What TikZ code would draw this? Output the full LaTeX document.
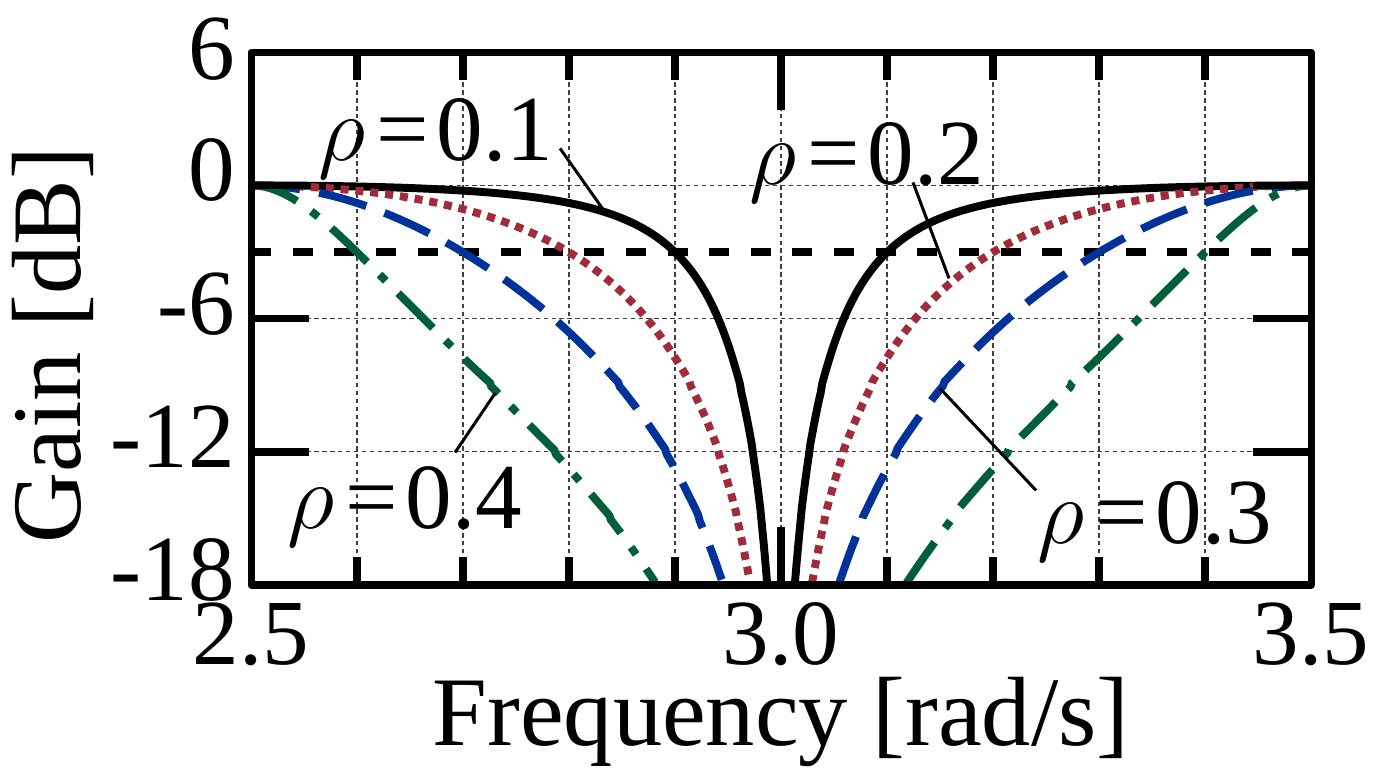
\RequirePackage{fix-cm}
\documentclass[tikz,border=0pt]{standalone}
\usepackage{fontspec}
\setmainfont{Liberation Serif}
\definecolor{cred}{HTML}{A12A3B}
\definecolor{cblue}{HTML}{00339A}
\definecolor{cgreen}{HTML}{005F3A}
\begin{document}
\begin{tikzpicture}[x=21.2cm,y=0.444cm,
  curve/.style={line width=4.5pt},
  blackc/.style={curve,black},
  redc/.style={curve,cred,dash pattern=on 4.6pt off 3.9pt},
  bluec/.style={curve,cblue,dash pattern=on 28pt off 11pt},
  greenc/.style={curve,cgreen,dash pattern=on 28pt off 10pt on 5pt off 10pt},
  halfpower/.style={line width=4.3pt,dash pattern=on 11.4pt off 12.3pt},
  gridline/.style={line width=0.7pt,black!75,dash pattern=on 2.5pt off 2pt},
  frameline/.style={line width=4pt,line join=round},
  tickline/.style={line width=4.3pt},
  leader/.style={line width=1.7pt},
  lbl/.style={font=\fontsize{53}{60}\selectfont,inner sep=0pt},
  axlbl/.style={font=\fontsize{56}{62}\selectfont,inner sep=0pt}
]
\useasboundingbox (2.26321,-26.333) rectangle (3.55849,8.351);

% grid
\foreach \gx in {2.6,2.7,2.8,2.9,3.0,3.1,3.2,3.3,3.4}
  \draw[gridline] (\gx,-18) -- (\gx,6);
\foreach \gy in {0,-6,-12}
  \draw[gridline] (2.5,\gy) -- (3.5,\gy);

% -3 dB line
\draw[halfpower] (2.5,-3) -- (3.5,-3);

% curves
\begin{scope}
\clip (2.5,-18) rectangle (3.5,6);
\draw[blackc] plot[domain=2.5:2.986882,samples=300] (\x,{4.3429448*ln( sin(180*(\x-3))^2/(sin(180*(\x-3))^2+0.105573*cos(180*(\x-3))^2) )});
\draw[blackc] plot[domain=3.013118:3.5,samples=300] (\x,{4.3429448*ln( sin(180*(\x-3))^2/(sin(180*(\x-3))^2+0.105573*cos(180*(\x-3))^2) )});
\draw[redc] plot[domain=2.5:2.970734,samples=300] (\x,{4.3429448*ln( sin(180*(\x-3))^2/(sin(180*(\x-3))^2+0.527864*cos(180*(\x-3))^2) )});
\draw[redc] plot[domain=3.029266:3.5,samples=300] (\x,{4.3429448*ln( sin(180*(\x-3))^2/(sin(180*(\x-3))^2+0.527864*cos(180*(\x-3))^2) )});
\draw[bluec] plot[domain=2.5:2.944961,samples=300] (\x,{4.3429448*ln( sin(180*(\x-3))^2/(sin(180*(\x-3))^2+1.894427*cos(180*(\x-3))^2) )});
\draw[bluec] plot[domain=3.055039:3.5,samples=300] (\x,{4.3429448*ln( sin(180*(\x-3))^2/(sin(180*(\x-3))^2+1.894427*cos(180*(\x-3))^2) )});
\draw[greenc] plot[domain=2.5:2.881496,samples=300] (\x,{4.3429448*ln( sin(180*(\x-3))^2/(sin(180*(\x-3))^2+9.472136*cos(180*(\x-3))^2) )});
\draw[greenc] plot[domain=3.118504:3.5,samples=300] (\x,{4.3429448*ln( sin(180*(\x-3))^2/(sin(180*(\x-3))^2+9.472136*cos(180*(\x-3))^2) )});
\end{scope}

% ticks
\foreach \tx in {2.6,2.7,2.8,2.9,3.1,3.2,3.3,3.4} {
  \draw[tickline] (\tx,-18) -- (\tx,-16.739);
  \draw[tickline] (\tx,6) -- (\tx,4.739);
}
\draw[tickline] (3.0,-18) -- (3.0,-15.387);
\draw[tickline] (3.0,6) -- (3.0,3.387);
\foreach \ty in {0,-6,-12} {
  \draw[tickline] (2.5,\ty) -- (2.55472,\ty);
  \draw[tickline] (3.5,\ty) -- (3.44528,\ty);
}

% frame
\draw[frameline] (2.5,-18) rectangle (3.5,6);

% tick labels
\node[lbl,anchor=east,xshift=-9pt,yshift=2pt] (yl6) at (2.5,6) {6};
\foreach \ty/\tl in {0/0,-6/-6,-12/-12,-18/-18}
  \node[lbl,anchor=east,xshift=-9pt,yshift=8.5pt] (yl\ty) at (2.5,\ty) {\tl};
\node[lbl,anchor=north,yshift=-10pt] (xl1) at (2.5,-18) {2.5};
\node[lbl,anchor=north,yshift=-10pt] (xl2) at (3.0,-18) {3.0};
\node[lbl,anchor=north,yshift=-10pt] (xl3) at (3.5,-18) {3.5};

% axis labels
\node[axlbl,anchor=base] (xlab) at (3.0,-25.25) {Frequency [rad/s]};
\node[axlbl,anchor=base,rotate=90] (ylab) at (2.3387,-7.2) {Gain [dB]};

% curve labels
\node[lbl,anchor=base west] (r1) at (2.5632,1.126) {$\rho$\kern0.12em=\kern0.08em0.1};
\node[lbl,anchor=base west] (r2) at (2.9698,0.045) {$\rho$\kern0.12em=\kern0.08em0.2};
\node[lbl,anchor=base west] (r3) at (3.2415,-16.126) {$\rho$\kern0.12em=\kern0.08em0.3};
\node[lbl,anchor=base west] (r4) at (2.534,-15.45) {$\rho$\kern0.12em=\kern0.08em0.4};

% leaders
\coordinate (a1) at (2.7915,1.667);  \coordinate (b1) at (2.8321,-1.081);
\coordinate (a2) at (3.1245,0.135);  \coordinate (b2) at (3.1585,-4.189);
\coordinate (a3) at (3.2406,-13.739); \coordinate (b3) at (3.15,-9.144);
\coordinate (a4) at (2.6925,-12.027); \coordinate (b4) at (2.7302,-9.369);
\draw[leader] (a1) -- (b1);
\draw[leader] (a2) -- (b2);
\draw[leader] (a3) -- (b3);
\draw[leader] (a4) -- (b4);
\end{tikzpicture}
\end{document}
